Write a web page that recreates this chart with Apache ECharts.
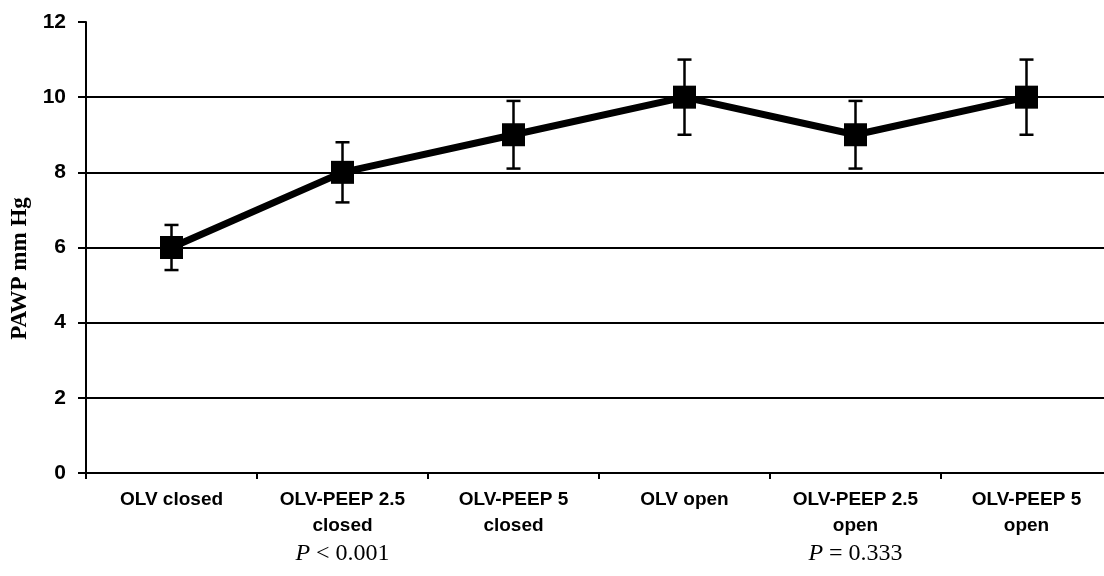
<!DOCTYPE html>
<html>
<head>
<meta charset="utf-8">
<script src="https://cdn.jsdelivr.net/npm/echarts@6/dist/echarts.min.js"></script>
<style>
  html, body { margin: 0; padding: 0; background: #fff; }
  #chart { width: 1104px; height: 576px; }
</style>
</head>
<body>
<div id="chart"></div>
<script>
const categories = ['OLV closed', 'OLV-PEEP 2.5\nclosed', 'OLV-PEEP 5\nclosed', 'OLV open', 'OLV-PEEP 2.5\nopen', 'OLV-PEEP 5\nopen'];
const means = [6, 8, 9, 10, 9, 10];
const errors = [0.6, 0.8, 0.9, 1.0, 0.9, 1.0];
const pLabels = ['', '< 0.001', '', '', '= 0.333', ''];

const chart = echarts.init(document.getElementById('chart'));

const option = {
  animation: false,
  grid: { left: 86, top: 22, width: 1026, bottom: 103, outerBoundsMode: 'none', containLabel: false },
  xAxis: {
    type: 'category',
    data: categories,
    boundaryGap: true,
    axisLine: { lineStyle: { color: '#000', width: 2 } },
    axisTick: { show: true, length: 6, lineStyle: { color: '#000', width: 2 } },
    axisLabel: {
      color: '#000',
      fontFamily: 'Liberation Sans, Arial, sans-serif',
      fontWeight: 'bold',
      fontSize: 19,
      lineHeight: 26,
      margin: 14,
      interval: 0,
      formatter: function (value, index) {
        if (pLabels[index]) {
          return value + '\n{pi|P}{pv| ' + pLabels[index] + '}';
        }
        return value;
      },
      rich: {
        pi: { fontFamily: 'Liberation Serif, Times New Roman, serif', fontStyle: 'italic', fontWeight: 'normal', fontSize: 24, color: '#000', lineHeight: 30 },
        pv: { fontFamily: 'Liberation Serif, Times New Roman, serif', fontWeight: 'normal', fontSize: 24, color: '#000', lineHeight: 30 }
      }
    }
  },
  yAxis: {
    type: 'value',
    min: 0,
    max: 12,
    interval: 2,
    name: 'PAWP mm Hg',
    nameLocation: 'middle',
    nameGap: 52,
    nameTextStyle: {
      fontFamily: 'Liberation Serif, Times New Roman, serif',
      fontWeight: 'bold',
      fontSize: 23,
      color: '#000',
      padding: [0, 0, 0, -42]
    },
    axisLine: { show: true, lineStyle: { color: '#000', width: 2 } },
    axisTick: { show: true, length: 8, lineStyle: { color: '#000', width: 2 } },
    axisLabel: {
      color: '#000',
      fontFamily: 'Liberation Sans, Arial, sans-serif',
      fontWeight: 'bold',
      fontSize: 21,
      margin: 20
    },
    splitLine: {
      show: true,
      showMinLine: false,
      showMaxLine: false,
      lineStyle: { color: '#000', width: 2 }
    }
  },
  series: [
    {
      type: 'custom',
      z: 2,
      data: means.map(function (m, i) { return [i, m - errors[i], m + errors[i]]; }),
      renderItem: function (params, api) {
        const lo = api.coord([api.value(0), api.value(1)]);
        const hi = api.coord([api.value(0), api.value(2)]);
        const hw = 7;
        const style = { stroke: '#000', lineWidth: 2.5 };
        return {
          type: 'group',
          children: [
            { type: 'line', shape: { x1: lo[0], y1: lo[1], x2: hi[0], y2: hi[1] }, style: style },
            { type: 'line', shape: { x1: lo[0] - hw, y1: lo[1], x2: lo[0] + hw, y2: lo[1] }, style: style },
            { type: 'line', shape: { x1: hi[0] - hw, y1: hi[1], x2: hi[0] + hw, y2: hi[1] }, style: style }
          ]
        };
      }
    },
    {
      type: 'line',
      z: 3,
      data: means,
      symbol: 'rect',
      symbolSize: 23,
      lineStyle: { color: '#000', width: 7 },
      itemStyle: { color: '#000' }
    }
  ]
};

chart.setOption(option);
</script>
</body>
</html>
